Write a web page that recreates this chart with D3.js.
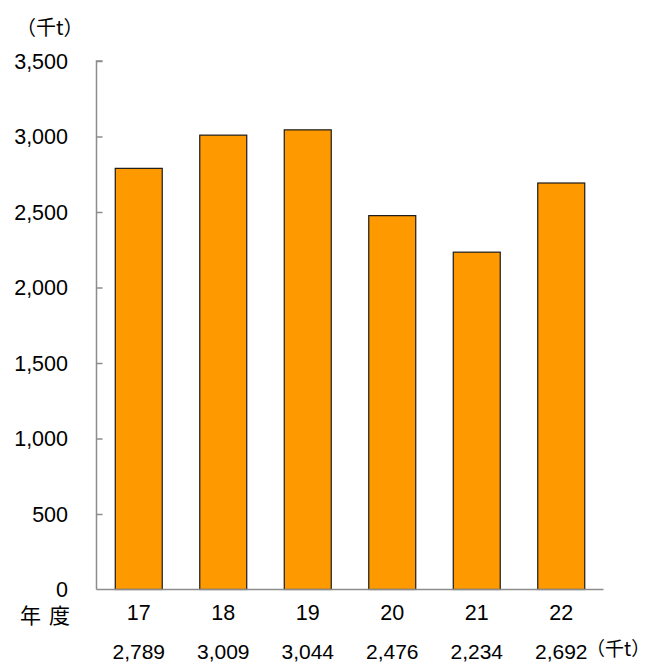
<!DOCTYPE html>
<html><head><meta charset="utf-8">
<script src="https://cdn.jsdelivr.net/npm/d3@7"></script>
<style>body{margin:0;background:#fff;} text{font-family:"Liberation Sans",Arial,sans-serif;fill:#000;}</style>
</head><body>
<svg id="c" width="653" height="665"></svg>
<script>
const categories = ["17","18","19","20","21","22"];
const values = [2789, 3009, 3044, 2476, 2234, 2692];
const valueLabels = ["2,789","3,009","3,044","2,476","2,234","2,692"];
const yTicks = [0,500,1000,1500,2000,2500,3000,3500];
const unitLabel = "（千t）";
const xTitle = ["年","度"];

const svg = d3.select("#c");
const x = d3.scaleBand().domain(categories).range([96.5, 603.5]).paddingInner(0.444).paddingOuter(0.222);
const y = d3.scaleLinear().domain([0, 3500]).range([589.5, 61]);

// bars
svg.selectAll("rect.bar").data(values).enter().append("rect")
  .attr("x", (d,i)=>x(categories[i]))
  .attr("y", d=>y(d))
  .attr("width", x.bandwidth())
  .attr("height", d=>y(0)-y(d))
  .attr("fill", "#FF9900")
  .attr("stroke", "#1a1a1a")
  .attr("stroke-width", 1.2);

// y axis
const yAxis = d3.axisRight(y).tickValues(yTicks).tickSize(6).tickFormat("");
const ga = svg.append("g").attr("transform","translate(96.5,0)").call(yAxis);
ga.select(".domain").attr("stroke","#8c8c8c").attr("stroke-width",1.5).attr("d","M6,61H0V589.5");
ga.selectAll(".tick line").attr("stroke","#8c8c8c").attr("stroke-width",1.5);
ga.selectAll(".tick").filter(d=>d===0).select("line").remove();

// y tick labels
svg.selectAll("text.yl").data(yTicks).enter().append("text")
  .attr("x", 68).attr("y", d=>y(d)).attr("dy","0.35em")
  .attr("text-anchor","end").attr("font-size",21.5)
  .text(d=>d3.format(",")(d));

// x axis line
svg.append("line").attr("x1",96.5).attr("x2",603.5).attr("y1",589.5).attr("y2",589.5)
  .attr("stroke","#8c8c8c").attr("stroke-width",1.5);

// category labels
svg.selectAll("text.cat").data(categories).enter().append("text")
  .attr("x", d=>x(d)+x.bandwidth()/2).attr("y", 612).attr("dy","0.35em")
  .attr("text-anchor","middle").attr("font-size",21.5).text(d=>d);

// value labels
svg.selectAll("text.val").data(valueLabels).enter().append("text")
  .attr("x", (d,i)=>x(categories[i])+x.bandwidth()/2).attr("y", 652).attr("dy","0.35em")
  .attr("text-anchor","middle").attr("font-size",21).text(d=>d);

// titles
const cjk = "'Noto Sans CJK JP',sans-serif";
svg.append("text").attr("x",16).attr("y",27.5).attr("dy","0.36em").attr("font-size",20)
  .style("font-family",cjk).text(unitLabel);
svg.selectAll("text.xt").data(xTitle).enter().append("text")
  .attr("x",(d,i)=>i===0?20:49).attr("y",615).attr("dy","0.36em").attr("font-size",21)
  .style("font-family",cjk).text(d=>d);
svg.append("text").attr("x",586).attr("y",649).attr("dy","0.36em").attr("font-size",19)
  .style("font-family",cjk).text(unitLabel);
</script>
</body></html>
